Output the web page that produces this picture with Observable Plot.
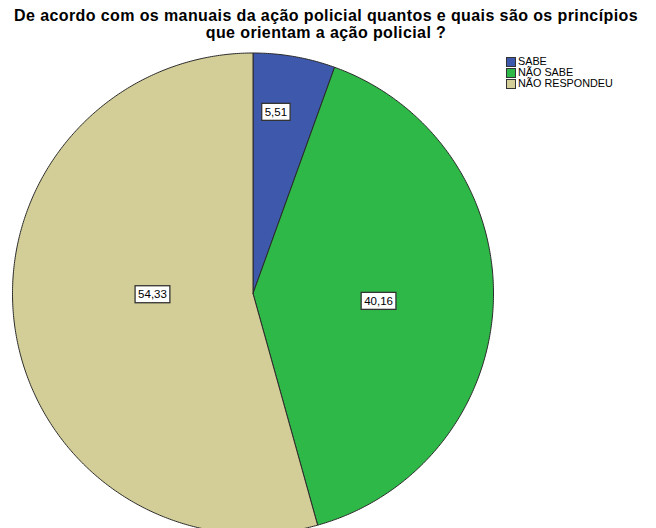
<!DOCTYPE html>
<html>
<head>
<meta charset="utf-8">
<script src="https://cdn.jsdelivr.net/npm/d3@7"></script>
<script src="https://cdn.jsdelivr.net/npm/@observablehq/plot@0.6"></script>
<style>
  html, body { margin: 0; padding: 0; background: #fff; }
  #wrap { position: relative; width: 656px; height: 528px; overflow: hidden; font-family: "Liberation Sans", Arial, sans-serif; }
  #title { position: absolute; top: 8px; left: 0; width: 652px; text-align: center; font-weight: bold; font-size: 16px; letter-spacing: 0.4px; line-height: 16.5px; color: #000; z-index: 2; white-space: nowrap; }
  #legend { position: absolute; left: 506px; top: 56px; font-size: 10.8px; line-height: 11px; color: #000; z-index: 2; }
  #legend .row { display: flex; align-items: center; height: 11px; }
  #legend .sw { width: 10px; height: 10px; border: 1px solid #333; box-sizing: border-box; margin-right: 2px; }
  #chart { position: absolute; left: 0; top: 0; }
</style>
</head>
<body>
<div id="wrap">
  <div id="title">De acordo com os manuais da ação policial quantos e quais são os princípios<br>que orientam a ação policial ?</div>
  <div id="legend"></div>
  <div id="chart"></div>
</div>
<script>
// Data
const categories = ["SABE", "NÃO SABE", "NÃO RESPONDEU"];
const values = [5.51, 40.16, 54.33];
const labels = ["5,51", "40,16", "54,33"];
const colors = ["#3e58ac", "#2eb848", "#d3ce97"];

// Label placement (polar: angle in degrees clockwise from top, radius fraction)
const labelPlacement = [
  {angle: 7.2, r: 0.76},
  {angle: 93.5, r: 0.523},
  {angle: 269.4, r: 0.418}
];

const pie = d3.pie().sort(null).startAngle(0).endAngle(2 * Math.PI)(values);

function slicePoints(s) {
  const pts = [{x: 0, y: 0}];
  const n = Math.max(4, Math.ceil((s.endAngle - s.startAngle) / (Math.PI / 360)));
  for (let i = 0; i <= n; i++) {
    const a = s.startAngle + (s.endAngle - s.startAngle) * i / n;
    pts.push({x: Math.sin(a), y: -Math.cos(a)});
  }
  pts.push({x: 0, y: 0});
  return pts;
}

const labelData = labels.map((t, i) => {
  const a = labelPlacement[i].angle * Math.PI / 180;
  return {text: t, x: labelPlacement[i].r * Math.sin(a), y: -labelPlacement[i].r * Math.cos(a)};
});

const sliceMarks = pie.map((s, i) =>
  Plot.line(slicePoints(s), {x: "x", y: "y", fill: colors[i], stroke: "#2a2a2a", strokeWidth: 1, curve: "linear"})
);

const chart = Plot.plot({
  width: 656,
  height: 528,
  margin: 0,
  x: {domain: [-1, 1], range: [12, 493], axis: null},
  y: {domain: [-1, 1], range: [52.5, 533.5], axis: null},
  marks: [
    ...sliceMarks,
    Plot.text(labelData, {x: "x", y: "y", text: "text", fontSize: 11.5, fill: "#000", fontFamily: "Liberation Sans, Arial, sans-serif", className: "pie-labels"})
  ]
});
document.getElementById("chart").appendChild(chart);

// add boxes behind labels
d3.select(chart).selectAll("g.pie-labels text").each(function() {
  const bb = this.getBBox();
  const padX = 3, padY = 2.5;
  const r = d3.select(this.parentNode).insert("rect", () => this)
    .attr("x", bb.x - padX).attr("y", bb.y - padY)
    .attr("width", bb.width + 2 * padX).attr("height", bb.height + 2 * padY)
    .attr("fill", "#fff").attr("stroke", "#333").attr("stroke-width", 1.3);
  const tr = this.getAttribute("transform");
  if (tr) r.attr("transform", tr);
});

// legend
const leg = d3.select("#legend");
categories.forEach((c, i) => {
  const row = leg.append("div").attr("class", "row");
  row.append("div").attr("class", "sw").style("background", colors[i]);
  row.append("span").text(c);
});
</script>
</body>
</html>
